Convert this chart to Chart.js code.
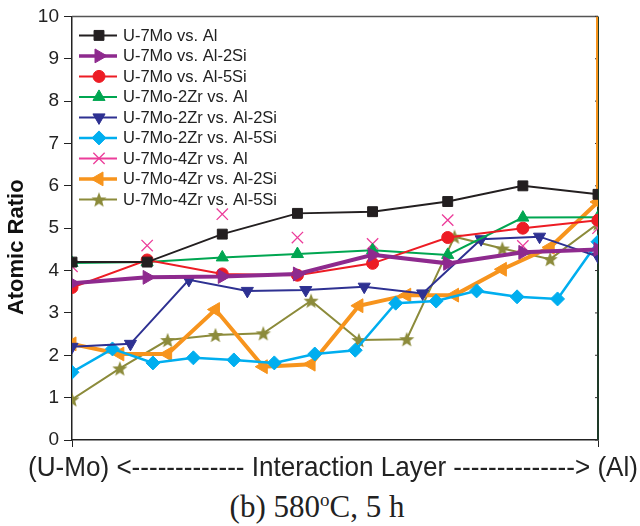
<!DOCTYPE html>
<html>
<head>
<meta charset="utf-8">
<title>Atomic Ratio</title>
<script src="https://cdn.jsdelivr.net/npm/chart.js@4/dist/chart.umd.min.js"></script>
<style>
  body { margin: 0; background: #fff; }
  #wrap { position: relative; width: 640px; height: 526px; }
  #chart { position: absolute; left: 0; top: 0; }
  .caption { position: absolute; left: 0; top: 489px; width: 640px; box-sizing: border-box;
             font-family: "Liberation Serif", "Times New Roman", serif; font-size: 31px; line-height: 36px;
             color: #222; text-align: center; }
  .caption span { position: relative; left: -3px; }
  .caption sup { font-size: 19px; line-height: 0; }
</style>
</head>
<body>
<div id="wrap">
  <canvas id="chart" width="640" height="486"></canvas>
  <div class="caption"><span>(b) 580<sup>o</sup>C, 5 h</span></div>
</div>
<script>
// series names (legend order)
const names = [
  'U-7Mo vs. Al', 'U-7Mo vs. Al-2Si', 'U-7Mo vs. Al-5Si',
  'U-7Mo-2Zr vs. Al', 'U-7Mo-2Zr vs. Al-2Si', 'U-7Mo-2Zr vs. Al-5Si',
  'U-7Mo-4Zr vs. Al', 'U-7Mo-4Zr vs. Al-2Si', 'U-7Mo-4Zr vs. Al-5Si'
];
// values, evenly spaced across the interaction layer
const mo_al     = [4.2, 4.2, 4.86, 5.35, 5.39, 5.63, 6.0, 5.8];
const mo_al2si  = [3.7, 3.84, 3.86, 3.92, 4.37, 4.17, 4.43, 4.5];
const mo_al5si  = [3.6, 4.25, 3.92, 3.89, 4.17, 4.78, 5.0, 5.19];
const zr2_al    = [4.18, 4.2, 4.31, 4.39, 4.48, 4.37, 5.25, 5.26];
const zr2_al2si = [2.2, 2.27, 3.78, 3.52, 3.54, 3.62, 3.46, 4.74, 4.8, 4.33];
const zr2_al5si = [1.6, 2.15, 1.82, 1.94, 1.89, 1.82, 2.03, 2.12, 3.23, 3.28, 3.52, 3.38, 3.33, 4.68];
const zr4_al    = [4.1, 4.59, 5.33, 4.78, 4.63, 5.19, 4.58, 5.0];
const zr4_al2si = [2.27, 2.03, 2.03, 3.08, 1.73, 1.79, 3.17, 3.42, 3.42, 4.03, 4.55, 5.62];
const zr4_al5si = [0.96, 1.69, 2.36, 2.48, 2.52, 3.29, 2.36, 2.38, 4.8, 4.52, 4.27, 5.11];
const zr4_al2si_edge = 10;   // orange trace runs up the right edge
const yTicks = [0, 1, 2, 3, 4, 5, 6, 7, 8, 9, 10];
const yTitle = 'Atomic Ratio';
const xTitle = '(U-Mo) <------------- Interaction Layer --------------> (Al)';

function pts(vals) {
  return vals.map((v, i) => ({ x: i / (vals.length - 1), y: v }));
}

function makeStar(color, r) {
  const c = document.createElement('canvas');
  c.width = c.height = Math.ceil(r * 2 + 2);
  const g = c.getContext('2d');
  const cx = c.width / 2, cy = c.height / 2 + 0.8;
  g.beginPath();
  for (let k = 0; k < 10; k++) {
    const rr = k % 2 ? r * 0.42 : r;
    const a = -Math.PI / 2 + k * Math.PI / 5;
    g.lineTo(cx + rr * Math.cos(a), cy + rr * Math.sin(a));
  }
  g.closePath();
  g.fillStyle = color;
  g.fill();
  return c;
}

const colors = ['#231f20', '#8e2a8e', '#ed1c24', '#00a651', '#2e3192', '#00aeef', '#ec3d9a', '#f7941d', '#8c8b3b'];
const starImg = makeStar(colors[8], 8);

function ds(i, vals, style, opts) {
  return Object.assign({
    label: names[i],
    data: pts(vals),
    borderColor: colors[i],
    backgroundColor: colors[i],
    borderWidth: 2,
    pointStyle: style,
    pointRadius: 6,
    pointBorderWidth: 1,
    pointRotation: 0,
    tension: 0
  }, opts || {});
}

const orangeData = pts(zr4_al2si).concat([{ x: 1, y: zr4_al2si_edge }]);

const datasets = [
  ds(0, mo_al, 'rect', { pointRadius: 7 }),
  ds(1, mo_al2si, 'triangle', { pointRotation: 90, borderWidth: 4, pointRadius: 8 }),
  ds(2, mo_al5si, 'circle', { pointRadius: 6 }),
  ds(3, zr2_al, 'triangle', { pointRadius: 7 }),
  ds(4, zr2_al2si, 'triangle', { pointRotation: 180, pointRadius: 7 }),
  ds(5, zr2_al5si, 'rectRot', { borderWidth: 2.5, pointRadius: 7 }),
  ds(6, zr4_al, 'crossRot', { showLine: false, pointRadius: 8, pointBorderWidth: 1.3 }),
  Object.assign(ds(7, zr4_al2si, 'triangle', { pointRotation: 270, borderWidth: 4, pointRadius: 8 }),
    { data: orangeData, pointRadius: orangeData.map((p, k) => k === orangeData.length - 1 ? 0 : 8) }),
  ds(8, zr4_al5si, starImg, {})
];

// frame: grey top edge, dark right edge with small inward ticks, axis titles
const frame = {
  id: 'frame',
  beforeDatasetsDraw(chart) {
    const { ctx, chartArea: a, scales } = chart;
    ctx.save();
    ctx.lineWidth = 1.5;
    ctx.strokeStyle = '#555';
    ctx.beginPath(); ctx.moveTo(a.left, a.top); ctx.lineTo(a.right, a.top); ctx.stroke();
    ctx.strokeStyle = '#1e3a28';
    ctx.lineWidth = 2;
    ctx.beginPath(); ctx.moveTo(a.right, a.top); ctx.lineTo(a.right, a.bottom); ctx.stroke();
    ctx.lineWidth = 1;
    ctx.strokeStyle = '#333';
    yTicks.forEach(t => {
      const y = scales.y.getPixelForValue(t);
      ctx.beginPath(); ctx.moveTo(a.right - 3, y); ctx.lineTo(a.right, y); ctx.stroke();
    });
    ctx.textAlign = 'center';
    ctx.textBaseline = 'middle';
    // x title spills past the plot on the right, as in the source figure
    ctx.font = '28px "Liberation Sans", Arial, sans-serif';
    ctx.fillStyle = '#222';
    ctx.fillText(xTitle, 333, a.bottom + 28, 610);
    // y title, sitting a little below the middle
    ctx.translate(17, scales.y.getPixelForValue(4.55));
    ctx.rotate(-Math.PI / 2);
    ctx.font = 'bold 22px "Liberation Sans", Arial, sans-serif';
    ctx.fillStyle = '#111';
    ctx.fillText(yTitle, 0, 0);
    ctx.restore();
  }
};

// legend drawn inside the plot: line + marker + label
const innerLegend = {
  id: 'innerLegend',
  afterDatasetsDraw(chart) {
    const { ctx, chartArea: a } = chart;
    const H = Chart.helpers;
    ctx.save();
    ctx.font = '16.5px "Liberation Sans", Arial, sans-serif';
    ctx.textBaseline = 'middle';
    chart.data.datasets.forEach((d, i) => {
      const y = a.top + 19 + i * 20.5;
      const x0 = a.left + 7, x1 = a.left + 45, xm = a.left + 27;
      ctx.strokeStyle = d.borderColor;
      ctx.lineWidth = Math.min(d.borderWidth, 3.5);
      ctx.beginPath(); ctx.moveTo(x0, y); ctx.lineTo(x1, y); ctx.stroke();
      const ps = d.pointStyle;
      if (ps instanceof HTMLCanvasElement) {
        ctx.drawImage(ps, xm - ps.width / 2, y - ps.height / 2);
      } else if (H && H.drawPoint) {
        ctx.fillStyle = d.backgroundColor;
        ctx.strokeStyle = d.borderColor;
        ctx.lineWidth = d.pointBorderWidth;
        const r = Array.isArray(d.pointRadius) ? d.pointRadius[0] : d.pointRadius;
        H.drawPoint(ctx, { pointStyle: ps, radius: r, rotation: d.pointRotation, borderWidth: d.pointBorderWidth }, xm, y);
      }
      ctx.fillStyle = '#222';
      ctx.fillText(d.label, a.left + 51, y + 1);
    });
    ctx.restore();
  }
};

new Chart(document.getElementById('chart'), {
  type: 'line',
  data: { datasets: datasets },
  plugins: [frame, innerLegend],
  options: {
    responsive: false,
    animation: false,
    layout: { padding: { left: 0, right: 42, top: 16, bottom: 0 } },
    plugins: { legend: { display: false }, tooltip: { enabled: false } },
    scales: {
      x: {
        type: 'linear', min: 0, max: 1,
        border: { color: '#222', width: 1.5 },
        grid: { drawOnChartArea: false, color: '#222', tickLength: 7 },
        ticks: { stepSize: 1, callback: () => '' },
        afterFit: s => { s.height = 46; }
      },
      y: {
        min: 0, max: 10,
        border: { color: '#222', width: 1.5 },
        grid: { drawOnChartArea: false, color: '#222', tickLength: 8 },
        afterBuildTicks: s => { s.ticks = yTicks.map(v => ({ value: v })); },
        ticks: {
          color: '#222', padding: 5,
          font: { family: '"Liberation Sans", Arial, sans-serif', size: 19 }
        },
        afterFit: s => { s.width = 72; }
      }
    }
  }
});
</script>
</body>
</html>
